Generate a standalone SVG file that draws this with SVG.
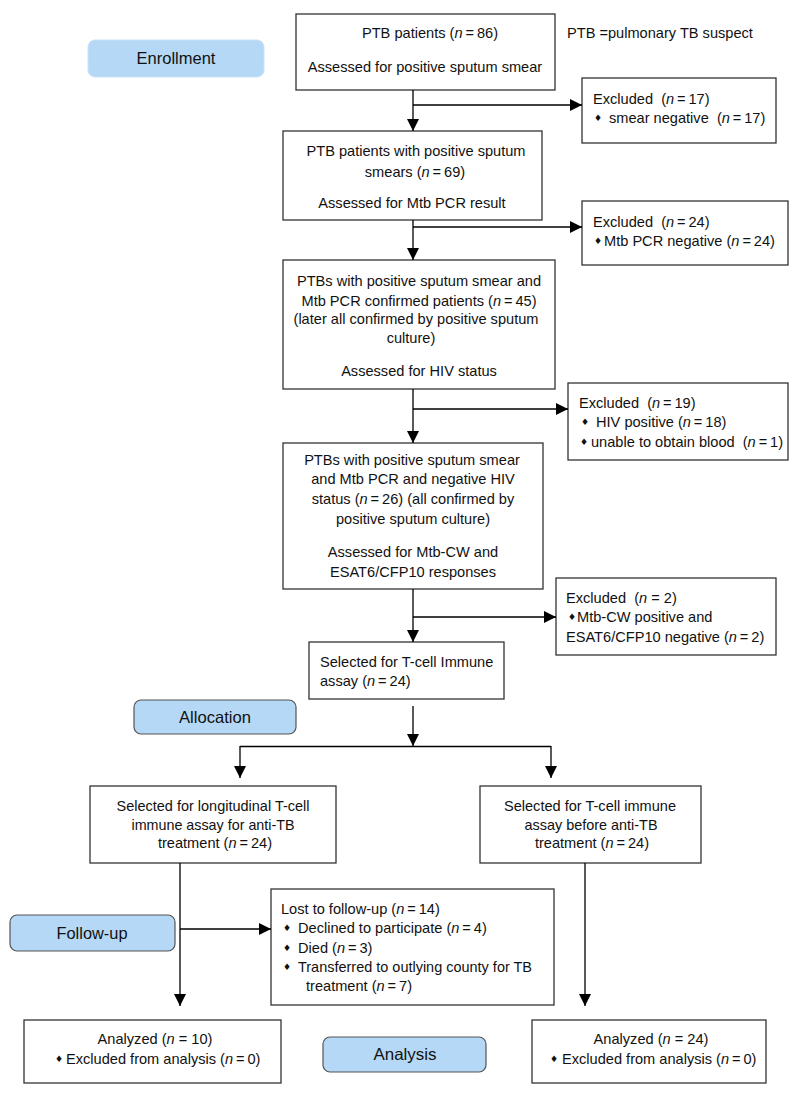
<svg xmlns="http://www.w3.org/2000/svg" width="798" height="1093" viewBox="0 0 798 1093">
<defs>
<marker id="ah" markerUnits="userSpaceOnUse" markerWidth="12" markerHeight="12" viewBox="0 0 12 12" refX="12" refY="6" orient="auto">
<path d="M0,0 L12,6 L0,12 Z" fill="#000"/>
</marker>
</defs>
<style>
text{font-family:"Liberation Sans",Arial,Helvetica,sans-serif;font-size:14.6px;fill:#111}
.c{text-anchor:middle}
.i{font-style:italic}
.b{fill:#fff;stroke:#333;stroke-width:1.3}
.p{fill:#b5d8f6;stroke:#555;stroke-width:1.2}
.pl{font-size:16.5px}
.d{font-family:"DejaVu Sans",sans-serif;font-size:9px}
.ln{fill:none;stroke:#000;stroke-width:1.3}
.a{marker-end:url(#ah)}
</style>
<rect width="798" height="1093" fill="#fff"/>

<g id="enrollment"><rect x="88" y="40" width="176" height="37" rx="7" fill="#b5d8f6" stroke="#c9e2f8" stroke-width="1"/><text class="c pl" x="176" y="64">Enrollment</text></g>
<g id="allocation"><rect class="p" x="134" y="700" width="162" height="34" rx="7"/><text class="c pl" x="215" y="723" textLength="72" lengthAdjust="spacingAndGlyphs">Allocation</text></g>
<g id="followup"><rect class="p" x="10" y="915" width="165" height="36" rx="7"/><text class="c pl" x="92" y="939" textLength="71" lengthAdjust="spacingAndGlyphs">Follow-up</text></g>
<g id="analysis"><rect class="p" x="323" y="1037" width="163" height="35" rx="7"/><text class="c pl" x="405" y="1060" textLength="63" lengthAdjust="spacingAndGlyphs">Analysis</text></g>

<text x="567" y="38">PTB =pulmonary TB suspect</text>

<g id="box1"><rect class="b" x="296" y="14" width="259" height="76"/>
<text class="c" x="430" y="38">PTB patients (<tspan class="i">n</tspan>&#8201;=&#8201;86)</text>
<text class="c" x="425" y="72">Assessed for positive sputum smear</text></g>

<g id="excl1"><rect class="b" x="582" y="78" width="194" height="65"/>
<text x="593" y="104">Excluded&#160; (<tspan class="i">n</tspan>&#8201;=&#8201;17)</text>
<text class="d" x="594" y="121">&#9830;</text><text x="609" y="123">smear negative&#160; (<tspan class="i">n</tspan>&#8201;=&#8201;17)</text></g>

<g id="box2"><rect class="b" x="283" y="131" width="259" height="89"/>
<text class="c" x="416" y="156">PTB patients with positive sputum</text>
<text class="c" x="415" y="177">smears (<tspan class="i">n</tspan>&#8201;=&#8201;69)</text>
<text class="c" x="412" y="208">Assessed for Mtb PCR result</text></g>

<g id="excl2"><rect class="b" x="582" y="201" width="206" height="64"/>
<text x="593" y="227">Excluded&#160; (<tspan class="i">n</tspan>&#8201;=&#8201;24)</text>
<text class="d" x="594" y="244">&#9830;</text><text x="604" y="246">Mtb PCR negative (<tspan class="i">n</tspan>&#8201;=&#8201;24)</text></g>

<g id="box3"><rect class="b" x="283" y="260" width="272" height="129"/>
<text class="c" x="419" y="286">PTBs with positive sputum smear and</text>
<text class="c" x="419" y="306">Mtb PCR confirmed patients (<tspan class="i">n</tspan>&#8201;=&#8201;45)</text>
<text class="c" x="416" y="324">(later all confirmed by positive sputum</text>
<text class="c" x="411" y="343">culture)</text>
<text class="c" x="419" y="376">Assessed for HIV status</text></g>

<g id="excl3"><rect class="b" x="568" y="383" width="220" height="77"/>
<text x="579" y="408">Excluded&#160; (<tspan class="i">n</tspan>&#8201;=&#8201;19)</text>
<text class="d" x="581" y="425">&#9830;</text><text x="596" y="427">HIV positive (<tspan class="i">n</tspan>&#8201;=&#8201;18)</text>
<text class="d" x="580" y="445">&#9830;</text><text x="591" y="447">unable to obtain blood&#160; (<tspan class="i">n</tspan>&#8201;=&#8201;1)</text></g>

<g id="box4"><rect class="b" x="283" y="443" width="260" height="146"/>
<text class="c" x="412" y="465">PTBs with positive sputum smear</text>
<text class="c" x="413" y="484">and Mtb PCR and negative HIV</text>
<text class="c" x="413" y="504">status (<tspan class="i">n</tspan>&#8201;=&#8201;26) (all confirmed by</text>
<text class="c" x="413" y="524">positive sputum culture)</text>
<text class="c" x="413" y="557">Assessed for Mtb-CW and</text>
<text class="c" x="413" y="577">ESAT6/CFP10 responses</text></g>

<g id="excl4"><rect class="b" x="556" y="578" width="220" height="77"/>
<text x="566" y="603">Excluded&#160; (<tspan class="i">n</tspan> = 2)</text>
<text class="d" x="568" y="620">&#9830;</text><text x="577" y="622">Mtb-CW positive and</text>
<text x="566" y="642">ESAT6/CFP10 negative (<tspan class="i">n</tspan>&#8201;=&#8201;2)</text></g>

<g id="selected"><rect class="b" x="309" y="642" width="195" height="57"/>
<text x="320" y="667">Selected for T-cell Immune</text>
<text x="320" y="686">assay (<tspan class="i">n</tspan>&#8201;=&#8201;24)</text></g>

<g id="longitudinal"><rect class="b" x="90" y="786" width="246" height="77"/>
<text class="c" x="213" y="811" textLength="193" lengthAdjust="spacingAndGlyphs">Selected for longitudinal T-cell</text>
<text class="c" x="213" y="830" textLength="163" lengthAdjust="spacingAndGlyphs">immune assay for anti-TB</text>
<text class="c" x="215" y="848">treatment (<tspan class="i">n</tspan>&#8201;=&#8201;24)</text></g>

<g id="before"><rect class="b" x="480" y="786" width="221" height="77"/>
<text class="c" x="590" y="811" textLength="172" lengthAdjust="spacingAndGlyphs">Selected for T-cell immune</text>
<text class="c" x="591" y="830" textLength="133" lengthAdjust="spacingAndGlyphs">assay before anti-TB</text>
<text class="c" x="592" y="848">treatment (<tspan class="i">n</tspan>&#8201;=&#8201;24)</text></g>

<g id="lost"><rect class="b" x="271" y="889" width="283" height="116"/>
<text x="281" y="914">Lost to follow-up (<tspan class="i">n</tspan>&#8201;=&#8201;14)</text>
<text class="d" x="283" y="931">&#9830;</text><text x="298" y="933">Declined to participate (<tspan class="i">n</tspan>&#8201;=&#8201;4)</text>
<text class="d" x="283" y="951">&#9830;</text><text x="298" y="953">Died (<tspan class="i">n</tspan>&#8201;=&#8201;3)</text>
<text class="d" x="283" y="970">&#9830;</text><text x="298" y="972" textLength="234" lengthAdjust="spacingAndGlyphs">Transferred to outlying county for TB</text>
<text x="306" y="991">treatment (<tspan class="i">n</tspan>&#8201;=&#8201;7)</text></g>

<g id="analyzed1"><rect class="b" x="24" y="1020" width="257" height="63"/>
<text class="c" x="155" y="1044">Analyzed (<tspan class="i">n</tspan> = 10)</text>
<text class="d" x="55" y="1062">&#9830;</text><text x="66" y="1064">Excluded from analysis (<tspan class="i">n</tspan>&#8201;=&#8201;0)</text></g>

<g id="analyzed2"><rect class="b" x="532" y="1020" width="234" height="63"/>
<text class="c" x="651" y="1044">Analyzed (<tspan class="i">n</tspan> = 24)</text>
<text class="d" x="550" y="1062">&#9830;</text><text x="562" y="1064">Excluded from analysis (<tspan class="i">n</tspan>&#8201;=&#8201;0)</text></g>

<g id="connectors">
<path class="ln a" d="M413,90 V131"/>
<path class="ln a" d="M413,105 H582"/>
<path class="ln a" d="M413,220 V260"/>
<path class="ln a" d="M413,227 H582"/>
<path class="ln a" d="M413,389 V443"/>
<path class="ln a" d="M413,409 H568"/>
<path class="ln a" d="M413,589 V642"/>
<path class="ln a" d="M413,617 H556"/>
<path class="ln a" d="M413,706 V746"/>
<path class="ln" d="M240,746.5 H551"/>
<path class="ln a" d="M240,746 V778"/>
<path class="ln a" d="M551,746 V778"/>
<path class="ln a" d="M180,863 V1006"/>
<path class="ln a" d="M180,929 H271"/>
<path class="ln a" d="M585,863 V1006"/>
</g>
</svg>
